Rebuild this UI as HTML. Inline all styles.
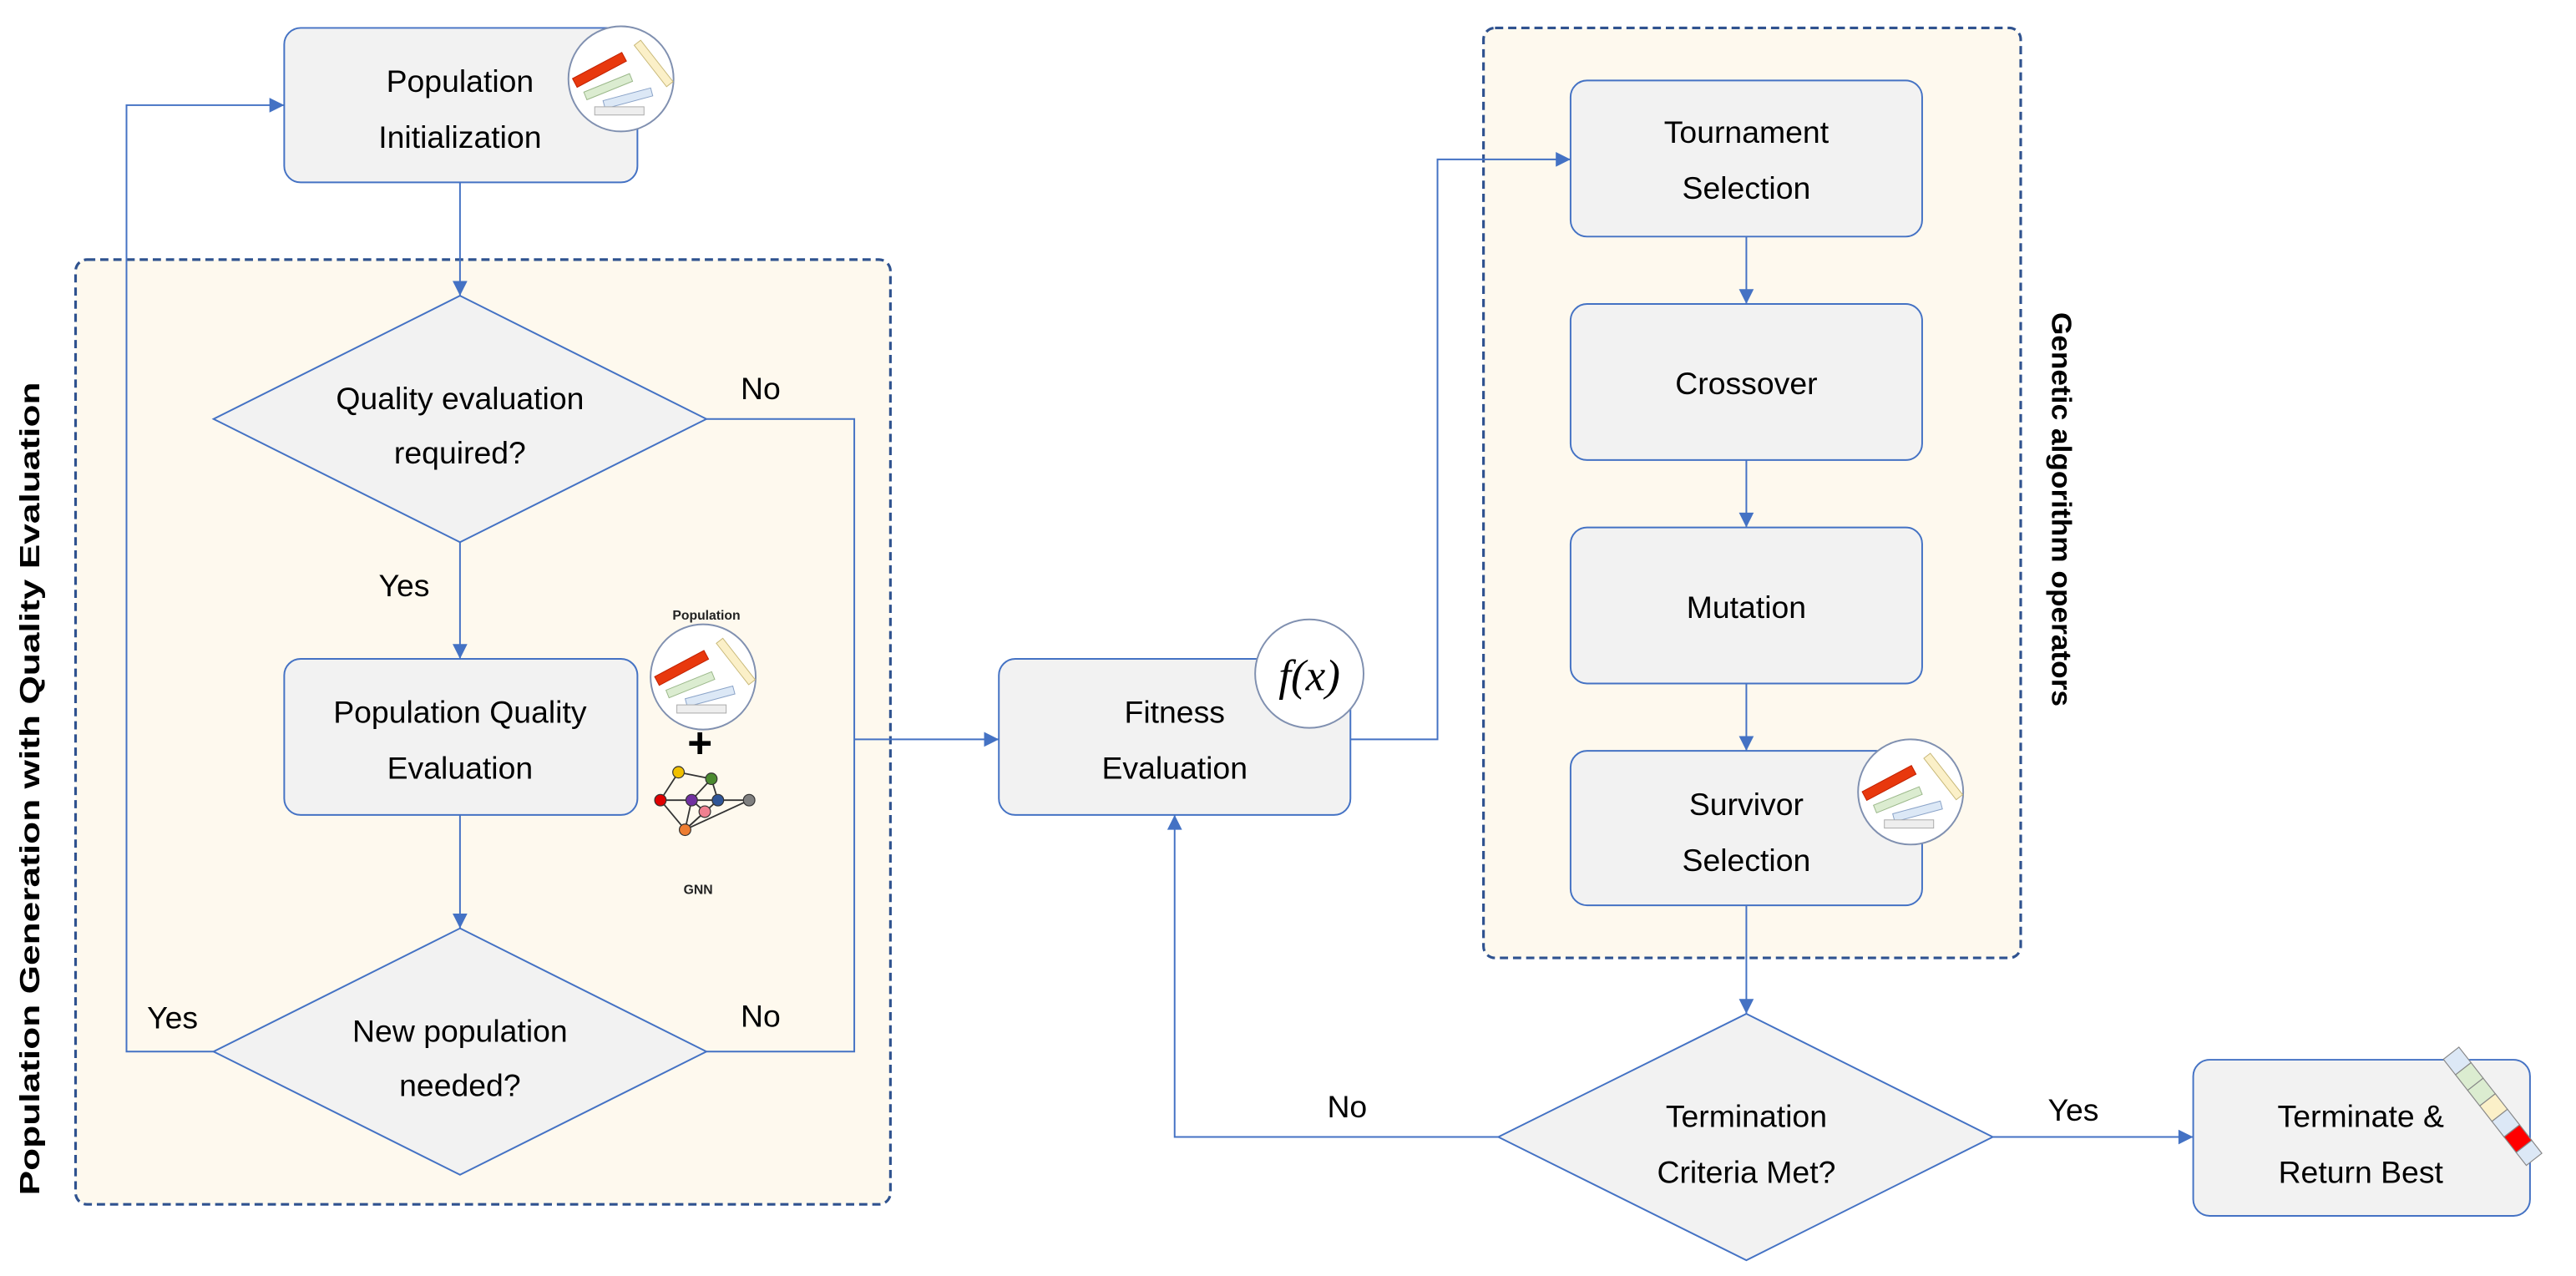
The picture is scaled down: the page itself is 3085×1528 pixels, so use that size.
<!DOCTYPE html>
<html><head><meta charset="utf-8"><style>
html,body{margin:0;padding:0;background:#fff;}
svg{display:block;}
text{font-family:"Liberation Sans",sans-serif;}
</style></head><body>
<svg width="3085" height="1528" viewBox="0 0 1568 776.6" preserveAspectRatio="none" xmlns="http://www.w3.org/2000/svg">
<defs>
<marker id="ar" viewBox="0 0 10 10" refX="10" refY="5" markerWidth="10" markerHeight="9" orient="auto" markerUnits="userSpaceOnUse"><path d="M0,0 L10,5 L0,10 z" fill="#4472c4"/></marker>
<g id="pop">
  <circle r="32" fill="#fff" stroke="#8090b0" stroke-width="1"/>
  <g transform="rotate(-28)"><rect x="-26" y="-14" width="34" height="6" fill="#e8380d" stroke="#c02000" stroke-width="0.5"/></g>
  <g transform="rotate(-22)"><rect x="-24" y="-1" width="30" height="5" fill="#dbecd0" stroke="#9bb88a" stroke-width="0.5"/></g>
  <g transform="rotate(-15)"><rect x="-14" y="10" width="30" height="5" fill="#dce8f6" stroke="#8aa3c8" stroke-width="0.5"/></g>
  <rect x="-16" y="17" width="30" height="5" fill="#eee" stroke="#aaa" stroke-width="0.5"/>
  <g transform="translate(10,-22) rotate(52)"><rect x="0" y="-2.5" width="32" height="5" fill="#fbf0c8" stroke="#c8b878" stroke-width="0.5"/></g>
</g>
</defs>
<rect x="46" y="158" width="496" height="575" rx="7" fill="#fef9ee" stroke="#2f528f" stroke-width="1.6" stroke-dasharray="5,3"/>
<rect x="903" y="17" width="327" height="566" rx="7" fill="#fef9ee" stroke="#2f528f" stroke-width="1.6" stroke-dasharray="5,3"/>

<g stroke="#4472c4" stroke-width="1" fill="none">
<path d="M280,111 L280,180" marker-end="url(#ar)"/>
<path d="M280,330 L280,401" marker-end="url(#ar)"/>
<path d="M280,496 L280,565" marker-end="url(#ar)"/>
<path d="M130,640 L77,640 L77,64 L173,64" marker-end="url(#ar)"/>
<path d="M430,255 L520,255 L520,640 L430,640"/>
<path d="M520,450 L608,450" marker-end="url(#ar)"/>
<path d="M822,450 L875,450 L875,97 L956,97" marker-end="url(#ar)"/>
<path d="M1063,144 L1063,185" marker-end="url(#ar)"/>
<path d="M1063,280 L1063,321" marker-end="url(#ar)"/>
<path d="M1063,416 L1063,457" marker-end="url(#ar)"/>
<path d="M1063,551 L1063,617" marker-end="url(#ar)"/>
<path d="M912,692 L715,692 L715,496" marker-end="url(#ar)"/>
<path d="M1213,692 L1335,692" marker-end="url(#ar)"/>
</g>

<g fill="#f2f2f2" stroke="#4472c4" stroke-width="1">
<rect x="173" y="17" width="215" height="94" rx="10"/>
<polygon points="280,180 430,255 280,330 130,255"/>
<rect x="173" y="401" width="215" height="95" rx="10"/>
<polygon points="280,565 430,640 280,715 130,640"/>
<rect x="608" y="401" width="214" height="95" rx="10"/>
<rect x="956" y="49" width="214" height="95" rx="10"/>
<rect x="956" y="185" width="214" height="95" rx="10"/>
<rect x="956" y="321" width="214" height="95" rx="10"/>
<rect x="956" y="457" width="214" height="94" rx="10"/>
<polygon points="1063,617 1213,692 1063,767 912,692"/>
<rect x="1335" y="645" width="205" height="95" rx="10"/>
</g>

<use href="#pop" x="378" y="48"/>
<use href="#pop" x="428" y="412"/>
<use href="#pop" x="1163" y="482"/>
<text x="430" y="377" font-size="8" font-weight="bold" text-anchor="middle" fill="#222">Population</text>
<text x="426" y="461" font-size="26" font-weight="bold" text-anchor="middle" fill="#000">+</text>
<g stroke="#333" stroke-width="0.9">
<line x1="413" y1="470" x2="433" y2="474"/><line x1="413" y1="470" x2="402" y2="487"/>
<line x1="402" y1="487" x2="456" y2="487"/><line x1="402" y1="487" x2="417" y2="505"/>
<line x1="433" y1="474" x2="437" y2="487"/><line x1="433" y1="474" x2="421" y2="487"/>
<line x1="421" y1="487" x2="417" y2="505"/><line x1="429" y1="494" x2="417" y2="505"/>
<line x1="429" y1="494" x2="421" y2="487"/><line x1="437" y1="487" x2="417" y2="505"/>
<line x1="456" y1="487" x2="417" y2="505"/>
</g>
<g stroke="#333" stroke-width="0.6">
<circle cx="413" cy="470" r="3.5" fill="#f0c000"/><circle cx="433" cy="474" r="3.5" fill="#4b8a2f"/>
<circle cx="402" cy="487" r="3.5" fill="#e00000"/><circle cx="421" cy="487" r="3.5" fill="#7030a0"/>
<circle cx="437" cy="487" r="3.5" fill="#2f5597"/><circle cx="456" cy="487" r="3.5" fill="#808080"/>
<circle cx="429" cy="494" r="3.5" fill="#f08090"/><circle cx="417" cy="505" r="3.5" fill="#ed7d31"/>
</g>
<text x="425" y="544" font-size="8" font-weight="bold" text-anchor="middle" fill="#222">GNN</text>
<circle cx="797" cy="410" r="33" fill="#fff" stroke="#8090b0" stroke-width="1"/>
<text x="797" y="420" font-size="27" font-style="italic" text-anchor="middle" fill="#000" style="font-family:'Liberation Serif',serif">f(x)</text>
<g transform="translate(1492,641) rotate(52)">
<rect x="0" y="-6" width="12" height="12" fill="#dce8f6" stroke="#888" stroke-width="0.6"/>
<rect x="12" y="-6" width="12" height="12" fill="#dbecd0" stroke="#888" stroke-width="0.6"/>
<rect x="24" y="-6" width="12" height="12" fill="#dbecd0" stroke="#888" stroke-width="0.6"/>
<rect x="36" y="-6" width="12" height="12" fill="#fbf0c8" stroke="#888" stroke-width="0.6"/>
<rect x="48" y="-6" width="12" height="12" fill="#dce8f6" stroke="#888" stroke-width="0.6"/>
<rect x="60" y="-6" width="12" height="12" fill="#ff0000" stroke="#888" stroke-width="0.6"/>
<rect x="72" y="-6" width="10" height="12" fill="#dce8f6" stroke="#888" stroke-width="0.6"/>
</g>

<g font-size="19" fill="#000" text-anchor="middle">
<text x="280" y="56">Population</text><text x="280" y="90">Initialization</text>
<text x="280" y="249">Quality evaluation</text><text x="280" y="282">required?</text>
<text x="280" y="440">Population Quality</text><text x="280" y="474">Evaluation</text>
<text x="280" y="634">New population</text><text x="280" y="667">needed?</text>
<text x="715" y="440">Fitness</text><text x="715" y="474">Evaluation</text>
<text x="1063" y="87">Tournament</text><text x="1063" y="121">Selection</text>
<text x="1063" y="240">Crossover</text>
<text x="1063" y="376">Mutation</text>
<text x="1063" y="496">Survivor</text><text x="1063" y="530">Selection</text>
<text x="1063" y="686">Termination</text><text x="1063" y="720">Criteria Met?</text>
<text x="1437" y="686">Terminate &amp;</text><text x="1437" y="720">Return Best</text>
<text x="463" y="243">No</text>
<text x="246" y="363">Yes</text>
<text x="105" y="626">Yes</text>
<text x="463" y="625">No</text>
<text x="820" y="680">No</text>
<text x="1262" y="682">Yes</text>
</g>
<text transform="translate(24,480) rotate(-90)" font-size="17" font-weight="bold" text-anchor="middle" fill="#000" textLength="495" lengthAdjust="spacingAndGlyphs">Population Generation with Quality Evaluation</text>
<text transform="translate(1249,310) rotate(90)" font-size="17" font-weight="bold" text-anchor="middle" fill="#000" textLength="240" lengthAdjust="spacingAndGlyphs">Genetic algorithm operators</text>
</svg>
</body></html>
